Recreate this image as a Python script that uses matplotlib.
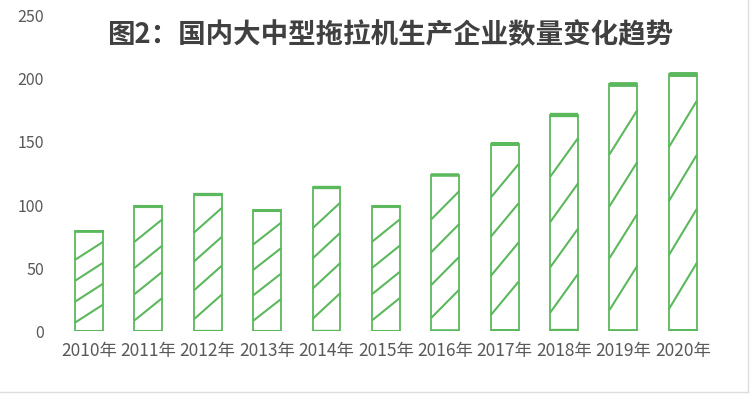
import numpy as np
import matplotlib.pyplot as plt

plt.rcParams['font.family'] = ['Noto Sans CJK SC', 'DejaVu Sans']

years = ['2010年', '2011年', '2012年', '2013年', '2014年', '2015年',
         '2016年', '2017年', '2018年', '2019年', '2020年']
counts = [79, 99, 109, 96, 114, 99, 124, 148, 171, 196, 204]
title = '图2：国内大中型拖拉机生产企业数量变化趋势'

green = '#5cb85c'
gray = '#595959'
bar_w = 0.47

fig = plt.figure(figsize=(7.5, 3.97), dpi=100)
ax = fig.add_axes([0.079, 0.166, 0.871, 0.794])

x = np.arange(len(years))
ax.bar(x, counts, width=bar_w, facecolor='white', edgecolor=green, linewidth=1.3)

# stretched diagonal pattern + heavier top/bottom strokes, scaled with bar height
u = np.array([0.0, 1.0])
for xi, h in zip(x, counts):
    for k in range(4):
        v = 0.085 + 0.21 * k + 0.18 * u
        ax.plot(xi - bar_w / 2 + u * bar_w, v * h, color=green, lw=1.5,
                solid_capstyle='butt')
    lw = 1.0 + h / 80
    ax.plot([xi - bar_w / 2, xi + bar_w / 2], [h, h], color=green, lw=lw,
            solid_capstyle='butt')
    ax.plot([xi - bar_w / 2, xi + bar_w / 2], [0, 0], color=green, lw=lw,
            solid_capstyle='butt')

ax.set_xlim(-0.5, len(years) - 0.5)
ax.set_ylim(0, 250)
ax.set_yticks([0, 50, 100, 150, 200, 250])
ax.set_xticks(x)
ax.set_xticklabels(years)
ax.tick_params(axis='y', length=0, pad=11, labelsize=11.5, labelcolor=gray)
ax.tick_params(axis='x', length=0, pad=8, labelsize=12.5, labelcolor=gray)
for s in ax.spines.values():
    s.set_visible(False)

fig.text(0.52, 0.912, title, ha='center', va='center', fontsize=19.8,
         fontweight='bold', color='#404040')

# light frame of the screenshot
fig.add_artist(plt.Line2D([0, 0.997], [0.013, 0.013], color='#dddddd', lw=1))
fig.add_artist(plt.Line2D([0.997, 0.997], [0.013, 1], color='#dddddd', lw=1))

fig.savefig('out.png', dpi=100)
